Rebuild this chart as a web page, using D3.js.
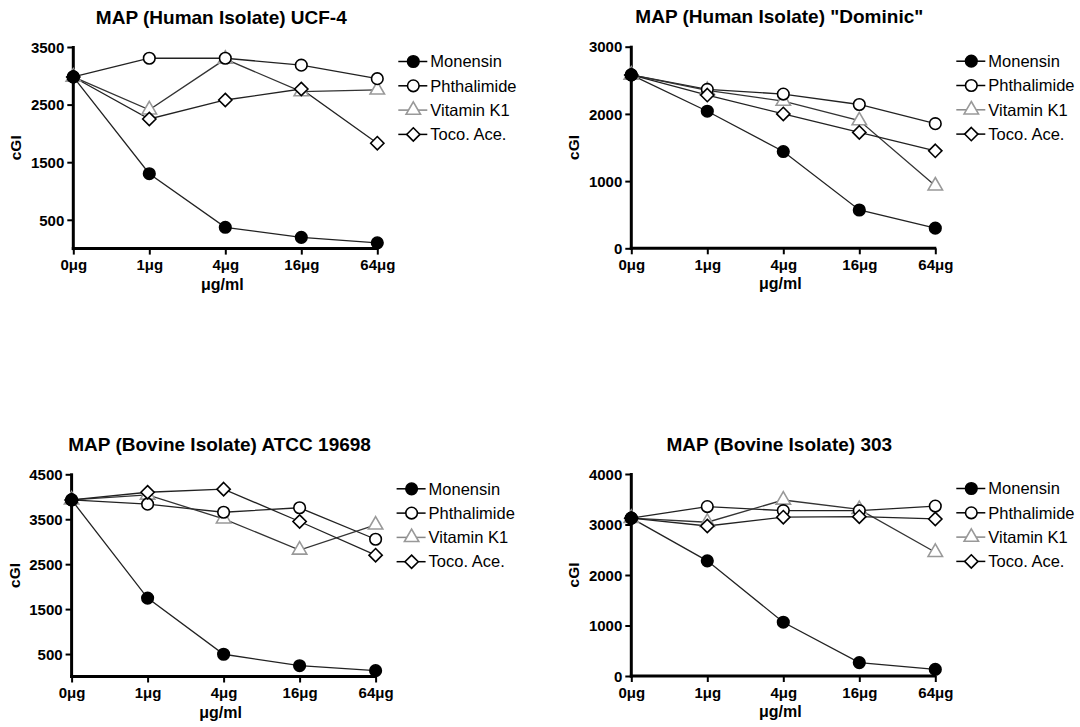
<!DOCTYPE html>
<html>
<head>
<meta charset="utf-8">
<script src="https://cdn.jsdelivr.net/npm/d3@7/dist/d3.min.js"></script>
<style>
  body { margin: 0; background: #fff; }
  svg { display: block; font-family: "Liberation Sans", Arial, sans-serif; }
</style>
</head>
<body>
<div id="chart"></div>
<script>
// categories + series
const doses = ['0μg', '1μg', '4μg', '16μg', '64μg'];
const seriesNames = ['Monensin', 'Phthalimide', 'Vitamin K1', 'Toco. Ace.'];

// values per panel, one row per series (same order as seriesNames)
const ucf4 = [
  [2980, 1300, 370, 195, 100],
  [2980, 3305, 3305, 3185, 2950],
  [2980, 2410, 3290, 2725, 2755],
  [2980, 2250, 2580, 2770, 1830]
];
const dominic = [
  [2580, 2040, 1440, 570, 300],
  [2580, 2365, 2295, 2140, 1855],
  [2580, 2350, 2190, 1900, 930],
  [2580, 2280, 2000, 1725, 1450]
];
const atcc19698 = [
  [3930, 1745, 495, 240, 130],
  [3930, 3835, 3655, 3755, 3055],
  [3930, 4040, 3510, 2815, 3375],
  [3930, 4100, 4170, 3450, 2700]
];
const bovine303 = [
  [3125, 2280, 1065, 265, 130],
  [3125, 3355, 3275, 3275, 3365],
  [3125, 3045, 3485, 3300, 2450],
  [3125, 2970, 3145, 3155, 3110]
];

const titles = [
  'MAP (Human Isolate) UCF-4',
  'MAP (Human Isolate) "Dominic"',
  'MAP (Bovine Isolate) ATCC 19698',
  'MAP (Bovine Isolate) 303'
];
const yMax = [3500, 3000, 4500, 4000];
const yTicks = [
  [500, 1500, 2500, 3500],
  [0, 1000, 2000, 3000],
  [500, 1500, 2500, 3500, 4500],
  [0, 1000, 2000, 3000, 4000]
];
const panelData = [ucf4, dominic, atcc19698, bovine303];

// plot boxes: left axis x, top tick y, zero y
const boxes = [
  { x: 73.3, top: 47, bottom: 248.6 },
  { x: 631.3, top: 46.7, bottom: 248.3 },
  { x: 71.6, top: 474.3, bottom: 676.5 },
  { x: 631.3, top: 474, bottom: 676 }
];
const plotW = 304;

const svg = d3.select('#chart').append('svg')
  .attr('width', 1080)
  .attr('height', 727);

// square rotated 45deg
const diamond = {
  draw(ctx, size) {
    const r = Math.sqrt(size / 2);
    ctx.moveTo(0, -r); ctx.lineTo(r, 0); ctx.lineTo(0, r); ctx.lineTo(-r, 0); ctx.closePath();
  }
};

const symbols = {
  'Monensin': { type: d3.symbolCircle, size: 105, fill: '#000', stroke: '#000', line: '#222' },
  'Phthalimide': { type: d3.symbolCircle, size: 105, fill: '#fff', stroke: '#000', line: '#222' },
  'Vitamin K1': { type: d3.symbolTriangle, size: 90, fill: '#fff', stroke: '#999', line: '#333', legendLine: '#888' },
  'Toco. Ace.': { type: diamond, size: 88, fill: '#fff', stroke: '#000', line: '#222' }
};

function drawMarker(g, name, cx, cy) {
  const s = symbols[name];
  g.append('path')
    .attr('d', d3.symbol().type(s.type).size(s.size)())
    .attr('transform', `translate(${cx},${cy})`)
    .attr('fill', s.fill)
    .attr('stroke', s.stroke)
    .attr('stroke-width', 1.6);
}

panelData.forEach((rows, p) => {
  const b = boxes[p];
  const g = svg.append('g').attr('class', 'panel');

  const x = d3.scalePoint().domain(doses).range([b.x, b.x + plotW]);
  const y = d3.scaleLinear().domain([0, yMax[p]]).range([b.bottom, b.top]);

  // title
  g.append('text')
    .attr('x', b.x + plotW / 2 - 4)
    .attr('y', b.top - 23.5)
    .attr('text-anchor', 'middle')
    .attr('font-size', 19)
    .attr('font-weight', 'bold')
    .text(titles[p]);

  // axes
  const yAxis = d3.axisLeft(y).tickValues(yTicks[p]).tickSize(6).tickPadding(3).tickFormat(d3.format('d'));
  const xAxis = d3.axisBottom(x).tickSize(6).tickPadding(5);

  const ya = g.append('g').attr('transform', `translate(${b.x},0)`).call(yAxis);
  const xa = g.append('g').attr('transform', `translate(0,${b.bottom})`).call(xAxis);

  [ya, xa].forEach(a => {
    a.select('.domain').remove();
    a.selectAll('.tick line').attr('stroke', '#000').attr('stroke-width', 2);
    a.selectAll('.tick text')
      .attr('fill', '#000')
      .attr('font-size', 15)
      .attr('font-weight', 'bold')
      .attr('font-family', '"Liberation Sans", Arial, sans-serif');
  });
  ya.selectAll('.tick text').attr('dy', '0.35em');

  // thick axis lines
  g.append('line')
    .attr('x1', b.x).attr('x2', b.x)
    .attr('y1', y(yMax[p]) - 1).attr('y2', b.bottom + 1.5)
    .attr('stroke', '#000').attr('stroke-width', 3);
  g.append('line')
    .attr('x1', b.x - 1.5).attr('x2', b.x + plotW + 1)
    .attr('y1', b.bottom).attr('y2', b.bottom)
    .attr('stroke', '#000').attr('stroke-width', 3);

  // axis titles
  g.append('text')
    .attr('x', b.x + plotW / 2 - 3)
    .attr('y', b.bottom + 41)
    .attr('text-anchor', 'middle')
    .attr('font-size', 16)
    .attr('font-weight', 'bold')
    .text('μg/ml');
  g.append('text')
    .attr('transform', `translate(${b.x - 52},${(b.top + b.bottom) / 2}) rotate(-90)`)
    .attr('text-anchor', 'middle')
    .attr('font-size', 15.5)
    .attr('font-weight', 'bold')
    .text('cGI');

  // lines
  const line = d3.line().x((d, i) => x(doses[i])).y(d => y(d));
  rows.forEach((vals, si) => {
    g.append('path')
      .datum(vals)
      .attr('d', line)
      .attr('fill', 'none')
      .attr('stroke', symbols[seriesNames[si]].line)
      .attr('stroke-width', 1.3);
  });

  // markers, drawn back to front
  [2, 1, 3, 0].forEach(si => {
    rows[si].forEach((v, i) => drawMarker(g, seriesNames[si], x(doses[i]), y(v)));
  });

  // legend
  const lg = g.append('g').attr('class', 'legend');
  seriesNames.forEach((name, i) => {
    const ly = b.top + 14.5 + i * 24.3;
    const lx = b.x + 325;
    lg.append('line')
      .attr('x1', lx).attr('x2', lx + 29)
      .attr('y1', ly).attr('y2', ly)
      .attr('stroke', symbols[name].legendLine || '#000')
      .attr('stroke-width', 1.5);
    drawMarker(lg, name, lx + 15, ly);
    lg.append('text')
      .attr('x', lx + 32)
      .attr('y', ly)
      .attr('dy', '0.35em')
      .attr('font-size', 16.5)
      .text(name);
  });
});
</script>
</body>
</html>
